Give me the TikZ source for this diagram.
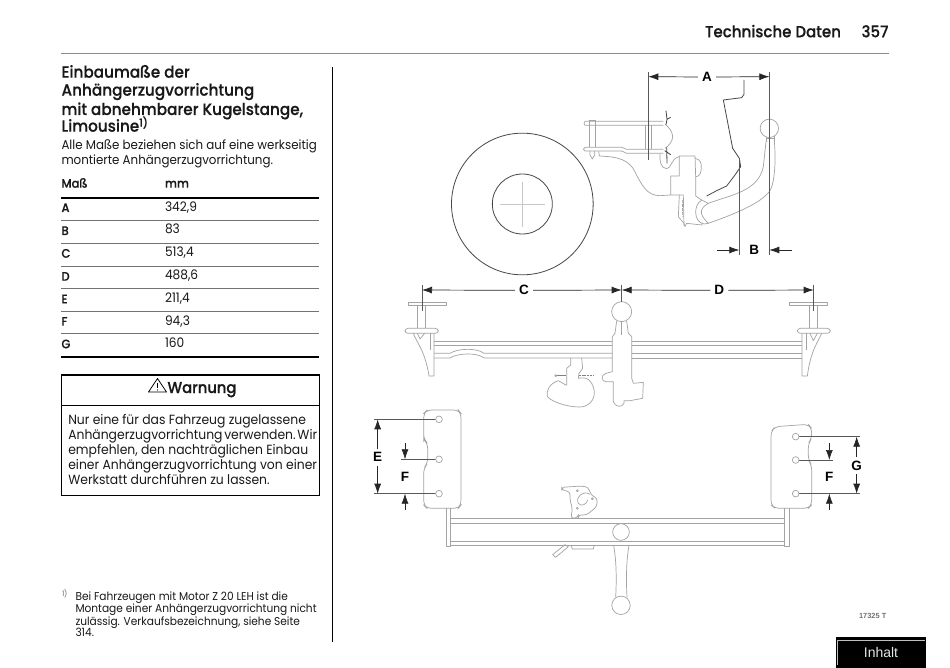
\documentclass[tikz,border=0pt]{standalone}
\usepackage{fontspec}
\usetikzlibrary{arrows.meta}
\setmainfont{Poppins}[FakeStretch=0.93]
\newfontfamily\medf{Poppins Medium}[FakeStretch=0.93,FakeBold=0.35]
\newfontfamily\uif{Liberation Sans}
\tikzset{
 x=1pt,y=-1pt,
 txt/.style={anchor=base west,inner sep=0pt,outer sep=0pt,text=black!90},
 head/.style={txt,font=\medf\fontsize{16.4}{18}\selectfont},
 body/.style={txt,font=\fontsize{12.75}{15}\selectfont},
 warn/.style={txt,font=\fontsize{13.3}{15}\selectfont},
 foot/.style={txt,font=\fontsize{11.4}{13}\selectfont},
 rowl/.style={txt,font=\medf\fontsize{12.4}{14}\selectfont},
 rowv/.style={txt,font=\fontsize{13.1}{14}\selectfont},
 dimlab/.style={inner sep=0pt,font=\uif\bfseries\fontsize{13.5}{16}\selectfont},
 lite/.style={draw=black!36,line width=0.7pt,line join=round},
 ringw/.style={lite,fill=white},
 ballnode/.style={circle,draw=black!36,line width=0.7pt,fill=white,inner sep=0pt,outer sep=0pt,minimum size=18.4pt},
 dark/.style={draw=black!72,line width=0.8pt,line join=round},
 dimline/.style={draw=black!65,line width=1pt},
 dimarr/.style={draw=black!85,line width=0.7pt,-{Latex[length=10pt,width=7pt]}},
 rul/.style={draw=black!55,line width=0.9pt},
 thick rul/.style={draw=black,line width=2.4pt},
 zoomA/.style={shift={(430,60)},x=0.33333pt,y=-0.33333pt},
 zoomB/.style={shift={(400,270)},x=0.33333pt,y=-0.33333pt},
 zoomC/.style={shift={(365,400)},x=0.33333pt,y=-0.33333pt},
}
\begin{document}
\begin{tikzpicture}
\useasboundingbox (0,0) rectangle (950,668);
\fill[white] (0,0) rectangle (950,668);
% header
\draw[draw=black!45,line width=0.9pt] (61,53.7) -- (889,53.7);
\node[txt,anchor=base east,font=\medf\fontsize{16.2}{18}\selectfont] (hd) at (841,37.3) {Technische Daten};
\node[txt,anchor=base east,font=\medf\fontsize{16.2}{18}\selectfont] (pg) at (888.5,37.3) {357};
% column rule
\draw[draw=black,line width=1pt] (332.7,67.5) -- (332.7,641.5);
% heading
\node[head] (h1) at (61.5,77.7) {Einbaumaße der};
\node[head] (h2) at (61.5,95.7) {Anhängerzugvorrichtung};
\node[head] (h3) at (61.5,115) {mit abnehmbarer Kugelstange,};
\node[head] (h4) at (61.5,131.7) {Limousine\raisebox{5pt}{\fontsize{11}{12}\selectfont 1)}};
\node[body] (b1) at (61.5,150) {Alle Maße beziehen sich auf eine werkseitig};
\node[body] (b2) at (61.5,165) {montierte Anhängerzugvorrichtung.};
% table
\node[rowl] (th1) at (61.5,187.7) {Maß};
\node[rowl] (th2) at (165,187.7) {mm};
\draw[thick rul] (61,198.3) -- (319,198.3);
\foreach \yy in {220.7,243.3,266,288.3,311,333.7} \draw[rul] (61,\yy) -- (319,\yy);
\draw[thick rul] (61,356.7) -- (319,356.7);
\foreach \nm/\lab/\val/\yl/\yv in {ra/A/{342,9}/212/212, rb/B/83/235/234, rc/C/{513,4}/257.7/257, rd/D/{488,6}/280.7/279.7, re/E/{211,4}/303.3/302.3, rf/F/{94,3}/325.7/325, rg/G/160/348.3/347.7}{
 \node[rowl] (\nm l) at (61.5,\yl) {\lab};
 \node[rowv] (\nm v) at (165,\yv) {\val};
}
% warning
\draw[draw=black,line width=1.2pt] (61.7,375) rectangle (319.3,495.7);
\draw[draw=black,line width=1.2pt] (61.7,405.7) -- (319.3,405.7);
\draw[draw=black,line width=0.8pt,line join=round] (157.5,378.5) -- (148.5,392) -- (166.5,392) -- cycle;
\draw[draw=black,line width=0.8pt] (157.5,383) -- (157.5,388);
\fill[black] (157.5,390) circle (0.6);
\node[txt,font=\medf\fontsize{15.8}{18}\selectfont] (wt) at (167.5,393) {Warnung};
\node[warn] (w1) at (68.3,424.3) {Nur eine für das Fahrzeug zugelassene};
\node[warn] (w2) at (68.3,439) {Anhängerzugvorrichtung\hspace{0.13em}verwenden.\hspace{0.13em}Wir};
\node[warn] (w3) at (68.3,454) {empfehlen, den nachträglichen Einbau};
\node[warn] (w4) at (68.3,469) {einer Anhängerzugvorrichtung von einer};
\node[warn] (w5) at (68.3,484) {Werkstatt durchführen zu lassen.};
% footnote
\node[txt,text=black!60,font=\fontsize{7.5}{9}\selectfont] (fm) at (62,596) {1)};
\node[foot] (f1) at (75.5,600) {Bei Fahrzeugen mit Motor Z 20 LEH ist die};
\node[foot] (f2) at (75.5,612.5) {Montage einer Anhängerzugvorrichtung nicht};
\node[foot] (f3) at (75.5,625) {zulässig. Verkaufsbezeichnung, siehe Seite};
\node[foot] (f4) at (75.5,636.7) {314.};
% reference, button
\node[inner sep=0pt,text=black!55,font=\uif\bfseries\fontsize{7.4}{8}\selectfont] (code) at (872.7,615.7) {17325 T};
\fill[black] (835.7,637.3) rectangle (926,668);
\draw[draw=black!25,line width=0.9pt] (837,665) -- (837,640) -- (925,640);
\node[inner sep=0pt,text=black!10,font=\uif\fontsize{14}{15}\selectfont] (inh) at (881,652.5) {Inhalt};

% ---------- side view
\begin{scope}[zoomA]
 \draw[dark] (277,432) circle[radius=212.5];
 \draw[dark] (277,432) circle[radius=90];
 \draw[draw=black!22,line width=0.6pt] (210,434) -- (345,434) (277,365) -- (277,500);
 % rails
 \draw[lite] (700,184) -- (465,184) -- (462,190) -- (465,196) -- (700,196);
 \draw[lite] (700,268) -- (590,268) -- (575,262) -- (465,262) -- (460,268) -- (465,273) -- (575,273) -- (590,280) -- (700,280);
 \draw[lite] (478,182) -- (478,262) (495,182) -- (495,262) (476,182) -- (497,182);
 \draw[lite] (480,273) -- (480,285) -- (487,297) -- (494,285) -- (494,273);
 \draw[lite] (645,196) -- (645,268) (665,196) -- (665,268);
 % cut
 \draw[lite] (705,192) .. controls (715,200) and (728,215) .. (728,230) .. controls (728,245) and (715,258) .. (705,265);
 \draw[dark] (708,152) -- (711,178) -- (722,172) (711,178) -- (708,194) (710,262) -- (711,310) (704,272) -- (722,284);
 % bracket
 \draw[lite] (506,274) -- (508,288) .. controls (540,290) and (590,290) .. (612,330) .. controls (635,375) and (650,407) .. (690,407) -- (722,405);
 \draw[lite] (690,282) .. controls (688,300) and (692,326) .. (710,326) .. controls (725,326) and (722,295) .. (748,290);
 \draw[lite] (722,405) -- (722,348) -- (748,348) -- (748,288) -- (795,288) -- (797,350) -- (797,408) -- (815,420);
 \draw[lite] (795,295) .. controls (812,298) and (814,310) .. (814,322) .. controls (814,340) and (808,350) .. (797,350);
 \draw[lite] (722,405) -- (760,405) -- (762,497);
 \draw[lite] (748,405) -- (745,470) -- (762,490) -- (765,500) -- (770,490) -- (815,495) -- (817,488);
 \draw[lite,dash pattern=on 3pt off 1pt] (757,420) -- (758,470);
 % joint, arm, neck
 \draw[lite] (815,420) .. controls (800,430) and (797,445) .. (797,458) .. controls (797,475) and (808,490) .. (822,492) -- (835,490);
 \draw[lite] (815,420) -- (835,430) .. controls (800,450) and (815,470) .. (835,490);
 \draw[lite] (835,430) .. controls (900,405) and (985,395) .. (1000,320) -- (1008,245);
 \draw[lite] (835,490) .. controls (920,460) and (990,430) .. (1018,395) .. controls (1035,370) and (1038,300) .. (1033,245);
 \draw[lite] (1008,245) -- (1008,225) (1033,245) -- (1033,225) (1008,235) -- (1033,235);
 % bumper
 \draw[dark] (942,60) -- (942,103) -- (935,113) -- (880,120) -- (908,265) -- (928,295) -- (932,320) -- (915,345) -- (890,378) -- (860,392) -- (830,408);
 % ball
 \node[ballnode] (ballA) at (1018,205) {};
 % dimension lines
 \draw[dimline] (655,35) -- (655,300);
 \draw[dimline] (1018,35) -- (1018,585);
 \draw[dimline] (928,295) -- (928,585);
 \node[dimlab] (labA) at (831,51) {A};
 \node[dimlab] (labB) at (973,570) {B};
 \coordinate (a1) at (655,50); \coordinate (a2) at (1018,50);
 \coordinate (b1) at (862,570); \coordinate (b2) at (1085,570);
 \coordinate (b3) at (928,570); \coordinate (b4) at (1018,570);
 \draw[dimarr] (labA.west) ++(-12,0) -- (a1);
 \draw[dimarr] (labA.east) ++(12,0) -- (a2);
 \draw[dimarr] (b1) -- (b3);
 \draw[dimarr] (b2) -- (b4);
\end{scope}

% ---------- rear view
\begin{scope}[zoomB]
 % left mount
 \draw[lite] (25,97) rectangle (140,105);
 \draw[lite] (52,105) -- (52,175) (76,105) -- (76,175);
 \draw[lite,rounded corners=3pt] (15,175) rectangle (115,190);
 \draw[lite] (52,190) -- (60,207) -- (74,190);
 \draw[lite] (40,190) .. controls (48,215) and (75,240) .. (87,318) -- (102,318) -- (102,190);
 \draw[lite] (90,190) -- (90,240);
 % right mount
 \draw[lite] (1167,97) rectangle (1281,105);
 \draw[lite] (1229,105) -- (1229,175) (1253,105) -- (1253,175);
 \draw[lite,rounded corners=3pt] (1192,175) rectangle (1291,190);
 \draw[lite] (1230,190) -- (1240,212) -- (1252,190);
 \draw[lite] (1265,190) .. controls (1255,215) and (1232,240) .. (1222,318) -- (1206,318) -- (1206,190);
 \draw[lite] (1218,190) -- (1218,240);
 % bars
 \draw[lite] (102,214) -- (637,214);
 \draw[lite] (102,227) -- (637,227);
 \draw[lite] (102,250) -- (150,250) .. controls (170,236) and (230,232) .. (252,250) -- (637,250);
 \draw[lite] (102,264) -- (150,264) .. controls (170,250) and (230,246) .. (252,264) -- (637,264);
 \draw[lite] (695,214) -- (1206,214) (695,227) -- (1206,227) (695,250) -- (1206,250) (695,264) -- (1206,264);
 % centre
 \node[ballnode,minimum size=20pt] (ballB) at (665,125) {};
 \draw[lite] (650,153) -- (645,190) -- (637,200) -- (637,305) -- (618,310) .. controls (600,315) and (605,335) .. (618,335) -- (640,335) -- (640,395) .. controls (645,410) and (665,415) .. (672,400) -- (672,392) -- (690,392) -- (728,385) -- (730,337) -- (700,340) -- (695,325) -- (695,200) -- (685,190) -- (680,153);
 % coupling
 \draw[lite] (512,264) -- (512,285) -- (500,295) -- (500,345) -- (497,345) -- (475,332) .. controls (450,340) and (438,360) .. (442,380) .. controls (460,400) and (520,415) .. (550,410) .. controls (585,400) and (590,365) .. (575,340) .. controls (565,322) and (550,322) .. (535,325) -- (537,310) -- (548,295) -- (545,264);
 \draw[dark,draw=black!50] (470,317) -- (497,317);
 \draw[dark,draw=black!50,dash pattern=on 2pt off 0.7pt] (537,317) -- (582,317);
 \path[ringw] (467,317) circle[radius=3];
 % dims
 \draw[dimline] (66,45) -- (66,122);
 \draw[dimline] (665,45) -- (665,95);
 \draw[lite] (665,155) -- (665,195);
 \draw[dimline] (1241,45) -- (1241,122);
 \node[dimlab] (labC) at (372,61) {C};
 \node[dimlab] (labD) at (958,61) {D};
 \coordinate (c1) at (66,60); \coordinate (c2) at (665,60); \coordinate (d2) at (1241,60);
 \draw[dimarr] (labC.west) ++(-12,0) -- (c1);
 \draw[dimarr] (labC.east) ++(12,0) -- (c2);
 \draw[dimarr] (labD.west) ++(-12,0) -- (c2);
 \draw[dimarr] (labD.east) ++(12,0) -- (d2);
\end{scope}

% ---------- top view
\begin{scope}[zoomC]
 % left plate
 \draw[lite,rounded corners=5pt] (176,110) -- (176,40) -- (186,30) -- (280,30) -- (288,40) -- (288,315) -- (280,325) -- (186,325) -- (176,315) -- (176,205) -- (188,190) -- (188,130) -- (176,118) -- cycle;
 % right plate
 \draw[lite,rounded corners=5pt] (1218,95) -- (1230,80) -- (1330,73) -- (1340,85) -- (1340,115) -- (1330,130) -- (1330,180) -- (1340,195) -- (1340,315) -- (1330,325) -- (1230,325) -- (1218,315) -- cycle;
 % frame
 \draw[lite] (244,325) -- (244,440) -- (256,440) -- (256,325);
 \draw[lite] (1258,325) -- (1258,440) -- (1273,440) -- (1273,325);
 \draw[lite] (256,356) -- (1258,356) (256,369) -- (1258,369) (256,423) -- (1258,423) (256,435) -- (1258,435);
 \path[ringw] (768,396) circle[radius=25];
 % arm
 \draw[lite] (746,436) .. controls (752,470) and (756,520) .. (752,592);
 \draw[lite] (792,436) .. controls (786,470) and (782,520) .. (786,592);
 \node[ballnode] (ballC) at (768,616) {};
 % lever
 \draw[lite] (563,464) -- (600,434) -- (610,440) -- (572,472) -- cycle;
 \draw[lite] (618,435) -- (622,447) -- (685,447) -- (688,435);
 % coupler
 \draw[lite,rounded corners=3pt] (590,262) -- (650,258) -- (670,262) -- (678,285) -- (697,295) -- (695,320) -- (665,345) -- (640,345) -- (640,352) -- (618,356) -- (622,325) -- (615,300) -- (615,275) -- (590,270) -- cycle;
 \draw[lite] (675,283) .. controls (655,270) and (630,290) .. (640,310) .. controls (650,322) and (665,312) .. (668,300);
 \foreach \px/\py in {637/272,682/296,637/325} \path[ringw] (\px,\py) circle[radius=3];
 % dim lines
 \draw[dimline] (28,58) -- (214,58);
 \draw[dimline] (108,178) -- (214,178);
 \draw[dimline] (28,281) -- (214,281);
 \draw[dimline] (1300,110) -- (1485,110);
 \draw[dimline] (1300,180) -- (1405,180);
 \draw[dimline] (1300,281) -- (1485,281);
 \foreach \yy in {58,178,281} \path[ringw] (222,\yy) circle[radius=10];
 \foreach \yy in {110,180,281} \path[ringw] (1292,\yy) circle[radius=10];
 \node[dimlab] (labE) at (38,172) {E};
 \node[dimlab] (labF) at (120,230) {F};
 \node[dimlab] (labG) at (1475,197) {G};
 \node[dimlab] (labFr) at (1393,230) {F};
 \coordinate (e1) at (38,58); \coordinate (e2) at (38,281);
 \coordinate (g1) at (1475,110); \coordinate (g2) at (1475,281);
 \draw[dimarr] (labE.north) ++(0,-10) -- (e1);
 \draw[dimarr] (labE.south) ++(0,10) -- (e2);
 \draw[dimarr] (labG.north) ++(0,-10) -- (g1);
 \draw[dimarr] (labG.south) ++(0,10) -- (g2);
 \coordinate (f1t) at (120,128); \coordinate (f1a) at (120,178);
 \coordinate (f1b) at (120,330); \coordinate (f1c) at (120,281);
 \coordinate (f2t) at (1393,128); \coordinate (f2a) at (1393,180);
 \coordinate (f2b) at (1393,330); \coordinate (f2c) at (1393,281);
 \draw[dimarr] (f1t) -- (f1a);
 \draw[dimarr] (f1b) -- (f1c);
 \draw[dimarr] (f2t) -- (f2a);
 \draw[dimarr] (f2b) -- (f2c);
\end{scope}
\end{tikzpicture}
\end{document}
